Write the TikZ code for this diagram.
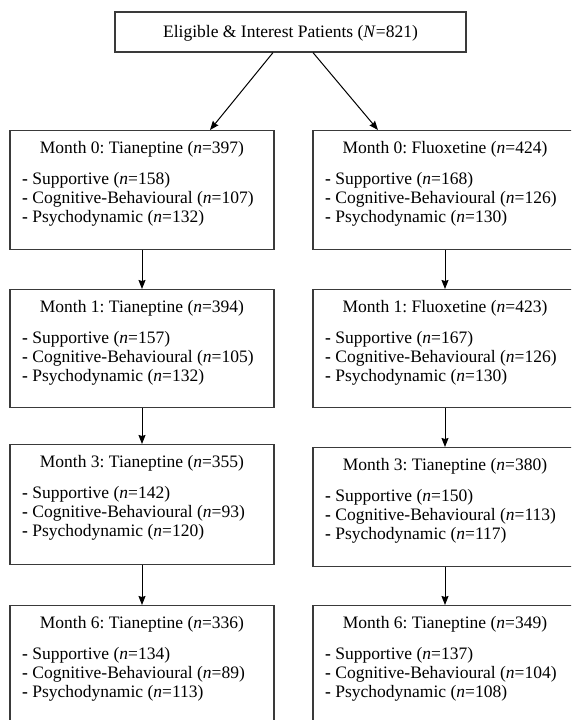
\documentclass[tikz,border=0pt]{standalone}
\usepackage{fontspec}
\setmainfont{Liberation Serif}
\frenchspacing
\usetikzlibrary{arrows.meta}
\definecolor{boxgray}{HTML}{3A3A3A}
\tikzset{
  box/.style={draw=boxgray, line width=1.2pt, minimum width=264pt, inner sep=0pt, anchor=north},
  ttl/.style={anchor=base, font=\fontsize{17.5}{19}\selectfont, inner sep=0pt},
  lst/.style={anchor=base west, font=\fontsize{17.5}{19}\selectfont, inner sep=0pt},
  arr/.style={draw=black, line width=1pt, -{Stealth[length=9pt,width=7pt,inset=1pt]}}
}
\newcommand\flowbox[8]{%
  \node[box, minimum height=#4pt] (#1) at (#2,#3) {};
  \node[ttl] (#1t) at (#2,#3+23) {#5};
  \node[lst] (#1a) at (#2-120,#3+54) {\textbf{-} #6};
  \node[lst] (#1b) at (#2-120,#3+73) {\textbf{-} #7};
  \node[lst] (#1c) at (#2-120,#3+92) {\textbf{-} #8};
}
\newcommand\nn[1]{(\textit{n}=#1)}
\begin{document}
\begin{tikzpicture}[x=1pt,y=-1pt]
\useasboundingbox (0,0) rectangle (571,720);
\clip (0,0) rectangle (571,720);
\fill[white] (0,0) rectangle (571,720);

\node[draw=boxgray, line width=1.2pt, minimum width=351pt, minimum height=40pt, inner sep=0pt] (top) at (290.5,32) {};
\node[ttl] (topt) at (290.5,37.5) {Eligible \& Interest Patients (\textit{N}=821)};

\flowbox{L0}{142}{130}{119}{Month 0: Tianeptine \nn{397}}{Supportive \nn{158}}{Cognitive-Behavioural \nn{107}}{Psychodynamic \nn{132}}
\flowbox{R0}{445}{130}{119}{Month 0: Fluoxetine \nn{424}}{Supportive \nn{168}}{Cognitive-Behavioural \nn{126}}{Psychodynamic \nn{130}}
\flowbox{L1}{142}{289}{118}{Month 1: Tianeptine \nn{394}}{Supportive \nn{157}}{Cognitive-Behavioural \nn{105}}{Psychodynamic \nn{132}}
\flowbox{R1}{445}{289}{118}{Month 1: Fluoxetine \nn{423}}{Supportive \nn{167}}{Cognitive-Behavioural \nn{126}}{Psychodynamic \nn{130}}
\flowbox{L2}{142}{444}{120}{Month 3: Tianeptine \nn{355}}{Supportive \nn{142}}{Cognitive-Behavioural \nn{93}}{Psychodynamic \nn{120}}
\flowbox{R2}{445}{447}{119}{Month 3: Tianeptine \nn{380}}{Supportive \nn{150}}{Cognitive-Behavioural \nn{113}}{Psychodynamic \nn{117}}
\flowbox{L3}{142}{605}{119}{Month 6: Tianeptine \nn{336}}{Supportive \nn{134}}{Cognitive-Behavioural \nn{89}}{Psychodynamic \nn{113}}
\flowbox{R3}{445}{605}{119}{Month 6: Tianeptine \nn{349}}{Supportive \nn{137}}{Cognitive-Behavioural \nn{104}}{Psychodynamic \nn{108}}

\draw[arr] ([xshift=-17.5pt]top.south) -- ([xshift=68pt]L0.north);
\draw[arr] ([xshift=22.5pt]top.south) -- ([xshift=-67pt]R0.north);
\draw[arr] (L0.south) -- (L1.north);
\draw[arr] (L1.south) -- (L2.north);
\draw[arr] (L2.south) -- (L3.north);
\draw[arr] (R0.south) -- (R1.north);
\draw[arr] (R1.south) -- (R2.north);
\draw[arr] (R2.south) -- (R3.north);
\end{tikzpicture}
\end{document}
